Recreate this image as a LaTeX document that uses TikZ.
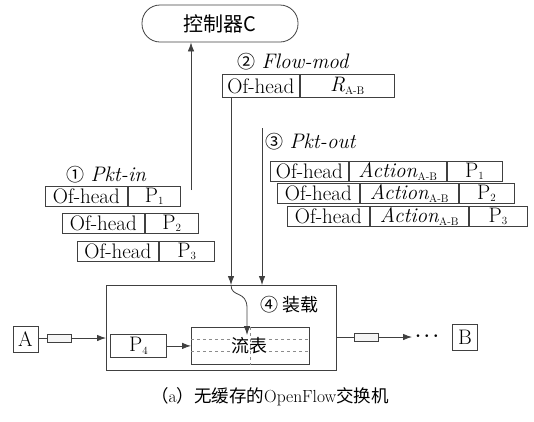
\documentclass[tikz,border=0pt]{standalone}
\usepackage{fontspec}
\newfontfamily\cjk{Noto Sans CJK SC}
\usetikzlibrary{arrows.meta}
% small lowered index used in packet fields
\newcommand{\sbx}[1]{\raisebox{-0.3ex}{\fontsize{11}{11}\selectfont #1}}
\newcommand{\pk}[1]{P\sbx{#1}}
\begin{document}
\begin{tikzpicture}[x=1pt,y=-1pt,
  ln/.style={draw=black!75, line width=0.8pt},
  cell/.style={ln, anchor=north west, inner sep=0pt, minimum height=20pt,
               font=\fontsize{21}{22}\selectfont},
  arr/.style={ln, -{Latex[length=9pt,width=6.5pt]}},
  pkt/.style={ln, fill=black!4, inner sep=0pt, minimum width=24pt, minimum height=8pt},
  lbl/.style={anchor=west, inner sep=0pt, font=\fontsize{21}{22}\selectfont},
  cn/.style={font=\cjk\fontsize{18}{20}\selectfont},
  endbox/.style={ln, inner sep=0pt, minimum width=25pt, minimum height=26pt,
                 font=\fontsize{21}{22}\selectfont}]
\useasboundingbox (0,0) rectangle (534,421);

% controller
\node[ln, rounded corners=18pt, minimum width=156pt, minimum height=37pt,
      font=\cjk\fontsize{20}{22}\selectfont] (ctrl) at (220,23.5) {控制器C};

% (2) Flow-mod message
\node[lbl] (fmlbl) at (237,62) {{\cjk\fontsize{18}{20}\selectfont ②} \textit{Flow-mod}};
\node[cell, minimum width=77pt, minimum height=23pt] (fmh) at (222,74) {Of-head};
\node[cell, minimum width=94pt, minimum height=23pt] (fmr) at (fmh.north east) {\textit{R}\sbx{A-B}};

% (1) Pkt-in messages
\node[lbl] (inlbl) at (66,175) {{\cjk\fontsize{18}{20}\selectfont ①} \textit{Pkt-in}};
\node[cell, minimum width=82pt] (i1h) at (45,186) {Of-head};
\node[cell, minimum width=52pt] (i1p) at (i1h.north east) {\pk1};
\node[cell, minimum width=82pt] (i2h) at (62,213) {Of-head};
\node[cell, minimum width=53pt] (i2p) at (i2h.north east) {\pk2};
\node[cell, minimum width=81pt] (i3h) at (77,241) {Of-head};
\node[cell, minimum width=55pt] (i3p) at (i3h.north east) {\pk3};

% (3) Pkt-out messages
\node[lbl] (outlbl) at (265,142) {{\cjk\fontsize{18}{20}\selectfont ③} \textit{Pkt-out}};
\node[cell, minimum width=78pt] (o1h) at (270,161) {Of-head};
\node[cell, minimum width=97pt] (o1a) at (o1h.north east) {\textit{Action}\sbx{A-B}};
\node[cell, minimum width=55pt] (o1p) at (o1a.north east) {\pk1};
\node[cell, minimum width=82pt] (o2h) at (277,183) {Of-head};
\node[cell, minimum width=98pt] (o2a) at (o2h.north east) {\textit{Action}\sbx{A-B}};
\node[cell, minimum width=55pt] (o2p) at (o2a.north east) {\pk2};
\node[cell, minimum width=82pt] (o3h) at (287,206) {Of-head};
\node[cell, minimum width=98pt] (o3a) at (o3h.north east) {\textit{Action}\sbx{A-B}};
\node[cell, minimum width=58pt] (o3p) at (o3a.north east) {\pk3};

% switch and its flow table
\node[ln, anchor=north west, inner sep=0pt, minimum width=230pt, minimum height=85pt] (sw) at (106,285) {};
\node[cn, anchor=west, inner sep=0pt] (load) at (260,305) {④ 装载};
\node[ln, anchor=north west, inner sep=0pt, minimum width=118pt, minimum height=37pt] (tbl) at (191,327) {};
\draw[black!45, dashed, line width=0.7pt] (tbl.west |- 0,339) -- (tbl.east |- 0,339)
      (tbl.west |- 0,351) -- (tbl.east |- 0,351);
\node[cn, fill=white, inner sep=1pt] (tbltxt) at (249,346) {流表};
\draw[black!45, dashed, line width=0.7pt] (250,0 |- tbl.north) -- (250,0 |- tbl.south);

\node[cell, minimum width=56pt, minimum height=23pt] (p4) at (110,334) {\pk4};

% end hosts
\node[endbox] (A) at (25.5,339) {A};
\node[endbox] (B) at (465,337.5) {B};
\node[font=\fontsize{16}{16}\selectfont\boldmath, inner sep=0pt] (dots) at (427,336) {$\cdots$};

% signalling connectors
\coordinate (inSrc) at (191,190);
\draw[arr] (inSrc) -- (inSrc |- ctrl.south);
\coordinate (fmSrc) at ([xshift=9pt]fmh.south west);
\draw[arr] (fmSrc) -- (fmSrc |- sw.north);
\coordinate (fmIn) at (fmSrc |- sw.north);
\coordinate (fmEnd) at (247,335);
\draw[arr] (fmIn) .. controls (231,298) and (247,290) .. (247,308) -- (fmEnd);
\coordinate (outSrc) at (262,128);
\draw[arr] (outSrc) -- (outSrc |- sw.north);

% data path
\draw[arr] (A.east |- 0,338) -- (sw.west |- 0,338);
\node[pkt] (pa) at (59,338) {};
\draw[arr] (p4.east) -- (tbl.west |- p4.east);
\coordinate (outEnd) at (412,337);
\draw[arr] (sw.east |- outEnd) -- (outEnd);
\node[pkt] (pb) at (366,337) {};

% caption
\node[font=\fontsize{17.5}{19}\selectfont, inner sep=0pt] (cap) at (270,397)
  {{\cjk （}a{\cjk ）无缓存的}OpenFlow{\cjk 交换机}};
\end{tikzpicture}
\end{document}
